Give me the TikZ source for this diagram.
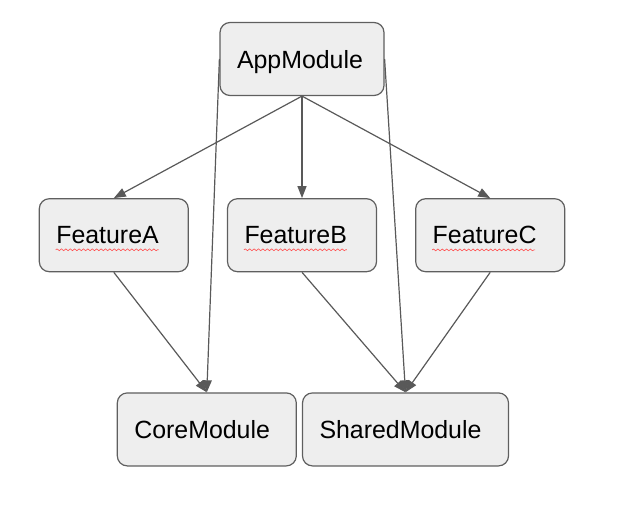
\documentclass[tikz,border=0pt]{standalone}
\usepackage{fontspec}
\setmainfont{Liberation Sans}
\usepackage{tikz}
\usetikzlibrary {arrows.meta,
                 positioning,
                 decorations.pathmorphing}
\definecolor{boxfill}{HTML}{EEEEEE}
\definecolor{boxline}{HTML}{5F5F5F}
\definecolor{arrowgrey}{HTML}{595959}
\tikzset{
        base/.style={draw=boxline, fill=boxfill, line width=0.6pt,
                     rounded corners=5pt, minimum height=36.5pt,
                     inner xsep=8.5pt, align=left, text depth=0pt,
                     font=\fontsize{12.45}{14}\selectfont},
        mod/.style={base, text width=#1-17pt},
        myarrow/.style={-{Triangle[length=6pt, width=4.5pt]},
                        draw=arrowgrey, line width=0.6pt},
        squiggle/.style={draw=red!70, line width=0.3pt,
                         decorate, decoration={snake, amplitude=0.45pt,
                         segment length=2.2pt}},
 }

\begin{document}
\begin{tikzpicture}
    \useasboundingbox (0,0) rectangle (312pt,-254.5pt);
    \node[mod=82pt] (app) at (151pt,-29.5pt) {AppModule};

    \node[mod=74.5pt, below=51pt of app] (featB) {FeatureB};
    \node[mod=74.5pt, left=19pt of featB] (featA) {FeatureA};
    \node[mod=74.5pt, right=19pt of featB] (featC) {FeatureC};

    \node[mod=89.5pt, below=60pt of featA, xshift=46.5pt] (core) {CoreModule};
    \node[mod=103pt, right=2.5pt of core] (shared) {SharedModule};

    % spell check lines
    \foreach \f/\w in {featA/51.5pt, featB/51.5pt, featC/51.5pt}
        \draw[squiggle] ([xshift=8.5pt, yshift=-3pt]\f.base west)
                        -- ++(\w,0);

    \draw[myarrow] (app.south) -- (featA.north);
    \draw[myarrow] (app.south) -- (featB.north);
    \draw[myarrow] (app.south) -- (featC.north);
    \draw[myarrow] (app.west) -- (core.north);
    \draw[myarrow] (app.east) -- (shared.north);
    \draw[myarrow] (featA.south) -- (core.north);
    \draw[myarrow] (featB.south) -- (shared.north);
    \draw[myarrow] (featC.south) -- (shared.north);
\end{tikzpicture}
\end{document}
